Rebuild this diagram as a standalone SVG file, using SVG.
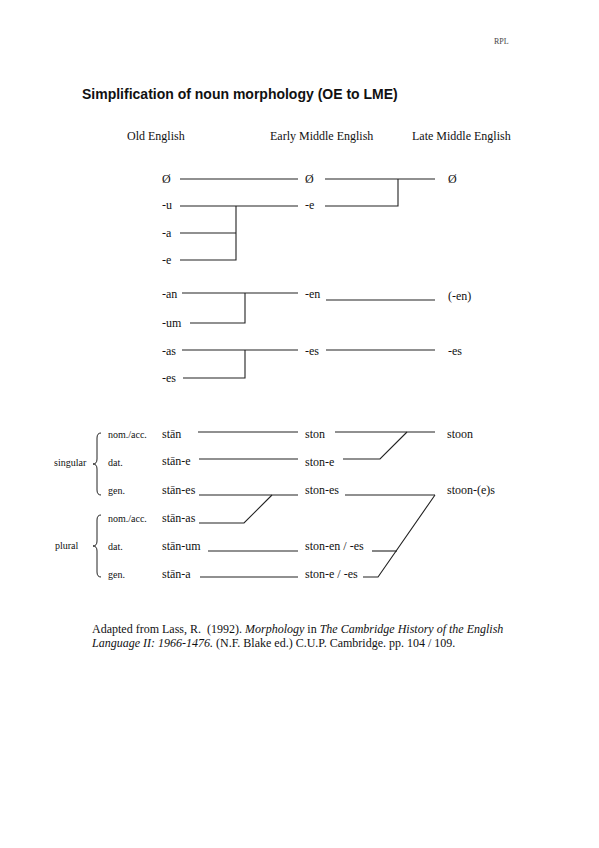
<svg xmlns="http://www.w3.org/2000/svg" width="599" height="848" viewBox="0 0 599 848">
<style>
text{font-family:"Liberation Serif","Times New Roman",serif;font-size:12px;fill:#111}
.title{font-family:"Liberation Sans",Arial,sans-serif;font-weight:bold;font-size:14px}
.sm{font-size:10px}
.xs{font-size:8px;fill:#444}
.it{font-style:italic}
.conn path,.conn line{stroke:#222;stroke-width:1.1;fill:none}
.brace{stroke:#222;stroke-width:1;fill:none}
</style>
<rect width="599" height="848" fill="#fff"/>
<text class="xs" x="494" y="44">RPL</text>
<text class="title" x="82" y="99">Simplification of noun morphology (OE to LME)</text>
<g id="headers">
<text x="127" y="140">Old English</text>
<text x="270" y="140">Early Middle English</text>
<text x="412" y="140">Late Middle English</text>
</g>
<g id="oe-labels">
<text id="oe-zero" x="162" y="183">Ø</text>
<text id="oe-u" x="162" y="209">-u</text>
<text id="oe-a" x="162" y="237">-a</text>
<text id="oe-e" x="162" y="264">-e</text>
<text id="oe-an" x="162" y="298">-an</text>
<text id="oe-um" x="162" y="327">-um</text>
<text id="oe-as" x="162" y="355">-as</text>
<text id="oe-es" x="162" y="382">-es</text>
</g>
<g id="eme-labels">
<text id="eme-zero" x="305" y="183">Ø</text>
<text id="eme-e" x="305" y="209">-e</text>
<text id="eme-en" x="305" y="298">-en</text>
<text id="eme-es" x="305" y="355">-es</text>
</g>
<g id="lme-labels">
<text id="lme-zero" x="448" y="183">Ø</text>
<text id="lme-en" x="448" y="300">(-en)</text>
<text id="lme-es" x="448" y="355">-es</text>
</g>
<g id="case-labels">
<text class="sm" x="54" y="466">singular</text>
<text class="sm" x="55" y="549">plural</text>
<text class="sm" x="108" y="438">nom./acc.</text>
<text class="sm" x="108" y="466">dat.</text>
<text class="sm" x="108" y="494">gen.</text>
<text class="sm" x="108" y="522">nom./acc.</text>
<text class="sm" x="108" y="550">dat.</text>
<text class="sm" x="108" y="578">gen.</text>
<path class="brace" d="M101,433 Q97,433 97,438 L97,459 Q97,464 93,464 Q97,464 97,469 L97,490 Q97,495 101,495"/>
<path class="brace" d="M101,515 Q97,515 97,520 L97,541 Q97,546 93,546 Q97,546 97,551 L97,572 Q97,577 101,577"/>
</g>
<g id="stan-forms">
<text x="162" y="438">stān</text>
<text x="162" y="465">stān-e</text>
<text x="162" y="494">stān-es</text>
<text x="162" y="522">stān-as</text>
<text x="162" y="550">stān-um</text>
<text x="162" y="578">stān-a</text>
</g>
<g id="ston-forms">
<text x="305" y="438">ston</text>
<text x="305" y="466">ston-e</text>
<text x="305" y="494">ston-es</text>
<text x="305" y="550">ston-en / -es</text>
<text x="305" y="578">ston-e / -es</text>
</g>
<g id="stoon-forms">
<text x="447" y="438">stoon</text>
<text x="447" y="494">stoon-(e)s</text>
</g>
<g id="connectors" class="conn">
<line x1="180" y1="179" x2="298" y2="179"/>
<line x1="325" y1="179" x2="435" y2="179"/>
<path d="M325,206 H398 V179"/>
<line x1="180" y1="206" x2="298" y2="206"/>
<path d="M180,233 H236"/>
<path d="M180,260 H236 V206"/>
<line x1="182" y1="293" x2="298" y2="293"/>
<path d="M190,323 H245 V293"/>
<line x1="326" y1="300" x2="435" y2="300"/>
<line x1="182" y1="350" x2="298" y2="350"/>
<path d="M183,378 H245 V350"/>
<line x1="326" y1="350" x2="435" y2="350"/>
<line x1="198" y1="432" x2="298" y2="432"/>
<line x1="199" y1="459" x2="298" y2="459"/>
<line x1="199" y1="495" x2="298" y2="495"/>
<path d="M199,523 H244 L272,495"/>
<line x1="208" y1="551" x2="298" y2="551"/>
<line x1="200" y1="577" x2="298" y2="577"/>
<line x1="335" y1="432" x2="435" y2="432"/>
<path d="M343,459 H380 L407,432"/>
<line x1="345" y1="495" x2="435" y2="495"/>
<path d="M363,577 H378 L435,495"/>
<line x1="372" y1="551" x2="397" y2="551"/>
</g>
<g id="footer">
<text x="92" y="633" xml:space="preserve">Adapted from Lass, R.  (1992). <tspan class="it">Morphology</tspan> in <tspan class="it">The Cambridge History of the English</tspan></text>
<text x="92" y="647"><tspan class="it">Language II: 1966-1476.</tspan> (N.F. Blake ed.) C.U.P. Cambridge. pp. 104 / 109.</text>
</g>
</svg>
